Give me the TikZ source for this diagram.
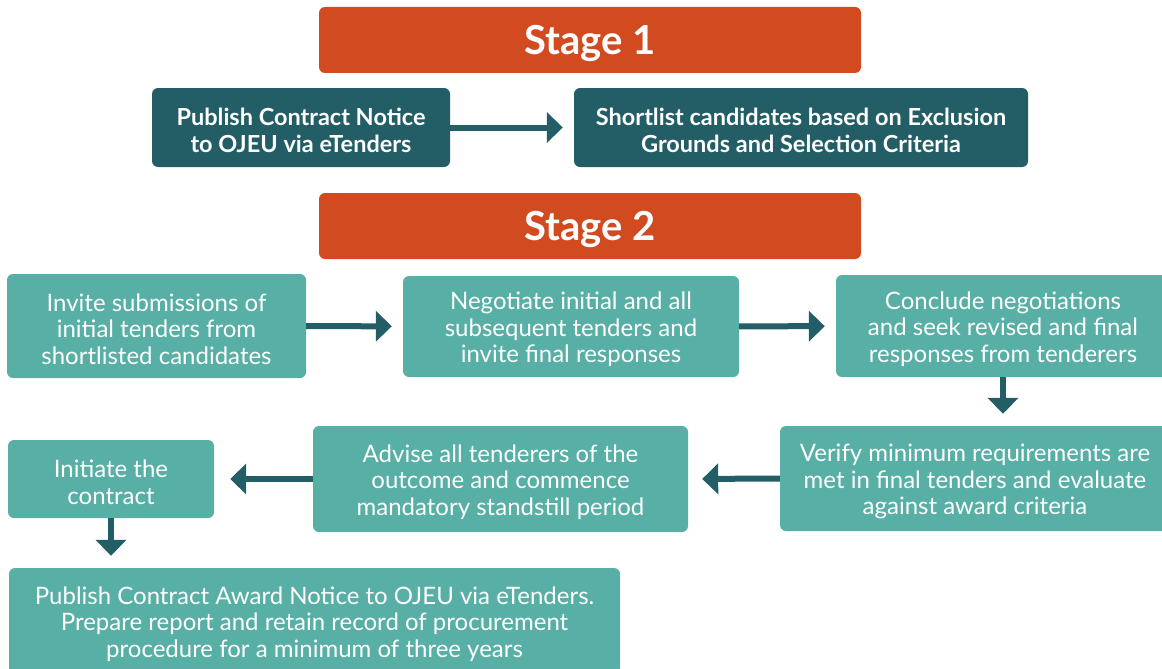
\documentclass[tikz,border=0pt]{standalone}
\usepackage{fontspec}
\setmainfont{Lato}
\usetikzlibrary{arrows.meta}
\definecolor{stageorange}{HTML}{D24A20}
\definecolor{darkteal}{HTML}{235E66}
\definecolor{lightteal}{HTML}{57AFA5}
\tikzset{
  stagebox/.style={fill=stageorange, rounded corners=6pt, inner sep=0pt},
  stagetext/.style={text=white, font=\fontsize{40}{46}\selectfont\bfseries, inner sep=0pt},
  darkbox/.style={fill=darkteal, rounded corners=6pt, inner sep=0pt},
  darktext/.style={text=white, align=center,
    font=\fontsize{23.5}{27}\selectfont\bfseries, inner sep=0pt},
  lightbox/.style={fill=lightteal, rounded corners=6pt, inner sep=0pt},
  lighttext/.style={text=white, align=center,
    font=\fontsize{24}{26.7}\selectfont, inner sep=0pt},
  flow/.style={draw=darkteal, line width=6pt,
    -{Triangle[width=30pt,length=16pt]}, shorten >=11pt},
}
% box node (named) plus its text, set slightly below the box centre
\newcommand{\boxat}[7]{% name, kind, cx, cy, w, h, text
  \node[#2box, minimum width=#5pt, minimum height=#6pt] (#1) at (#3,#4) {};
  \node[#2text] (#1-t) at ([yshift=-3pt]#1.center) {#7};}
\begin{document}
\begin{tikzpicture}[x=1pt,y=-1pt]
\useasboundingbox (0,0) rectangle (1162,669);
\clip (0,0) rectangle (1162,669);

% Stage 1
\boxat{sone}{stage}{590}{40}{542}{66}{Stage 1}
\boxat{pub}{dark}{301}{127.5}{298}{79}{Publish Contract Notice\\to OJEU via eTenders}
\boxat{short}{dark}{801}{127.5}{454}{79}{Shortlist candidates based on Exclusion\\Grounds and Selection Criteria}

% Stage 2
\boxat{stwo}{stage}{590}{226}{542}{66}{Stage 2}
\boxat{inv}{light}{156.5}{326}{299}{104}{Invite submissions of\\initial tenders from\\shortlisted candidates}
\boxat{neg}{light}{571}{326.5}{336}{101}{Negotiate initial and all\\subsequent tenders and\\invite final responses}
\boxat{con}{light}{1003}{326}{334}{102}{Conclude negotiations\\and seek revised and final\\responses from tenderers}
\boxat{ver}{light}{975}{478.5}{390}{105}{Verify minimum requirements are\\met in final tenders and evaluate\\against award criteria}
\boxat{adv}{light}{500.5}{479}{375}{106}{Advise all tenderers of the\\outcome and commence\\mandatory standstill period}
\boxat{ini}{light}{111}{479}{206}{78}{Initiate the\\contract}
\boxat{pa}{light}{314.5}{621}{611}{106}{Publish Contract Award Notice to OJEU via eTenders.\\Prepare report and retain record of procurement\\procedure for a minimum of three years}

% Connectors
\draw[flow] (pub) -- (short);
\draw[flow] (inv) -- (neg);
\draw[flow] (neg) -- (con);
\draw[flow, shorten >=12pt] (con.south) -- (con.south |- ver.north);
\draw[flow, shorten >=14pt] (ver.west) -- (adv.east);
\draw[flow, shorten >=16pt] (adv.west) -- (ini.east);
\draw[flow, shorten >=12pt] (ini.south) -- (ini.south |- pa.north);
\end{tikzpicture}
\end{document}
